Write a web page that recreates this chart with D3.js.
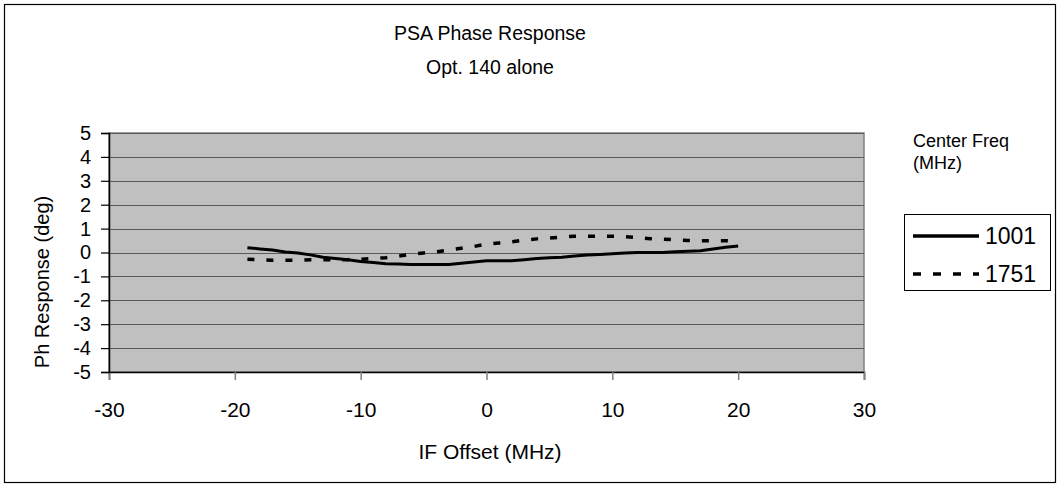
<!DOCTYPE html>
<html>
<head>
<meta charset="utf-8">
<script src="https://cdn.jsdelivr.net/npm/d3@7"></script>
<style>
  body { margin: 0; background: #fff; }
  svg text { font-family: "Liberation Sans", Arial, sans-serif; fill: #000; }
</style>
</head>
<body>
<svg id="chart" width="1061" height="491"></svg>
<script>
// ---- data ----
const title = ["PSA Phase Response", "Opt. 140 alone"];
const xTitle = "IF Offset (MHz)";
const yTitle = "Ph Response (deg)";
const legendTitle = ["Center Freq", "(MHz)"];
const seriesNames = ["1001", "1751"];
const xTicks = [-30, -20, -10, 0, 10, 20, 30];
const yTicks = [5, 4, 3, 2, 1, 0, -1, -2, -3, -4, -5];
const ifOffset = [-19, -18, -17, -16, -15, -14, -13, -12, -11, -10, -9, -8, -7, -6, -5, -4, -3, -2, -1, 0,
                  1, 2, 3, 4, 5, 6, 7, 8, 9, 10, 11, 12, 13, 14, 15, 16, 17, 18, 19, 20];
const ph1001 = [0.2, 0.15, 0.1, 0.02, -0.02, -0.1, -0.2, -0.25, -0.3, -0.38, -0.42, -0.47, -0.48, -0.5, -0.5, -0.5, -0.5, -0.45, -0.4, -0.35,
                -0.35, -0.35, -0.3, -0.25, -0.22, -0.2, -0.15, -0.1, -0.08, -0.05, -0.02, 0, 0, 0, 0.03, 0.05, 0.07, 0.15, 0.22, 0.27];
const ph1751 = [-0.28, -0.3, -0.32, -0.32, -0.32, -0.3, -0.3, -0.3, -0.3, -0.28, -0.25, -0.22, -0.15, -0.08, -0.02, 0.03, 0.1, 0.18, 0.25, 0.35,
                0.4, 0.45, 0.52, 0.57, 0.6, 0.65, 0.68, 0.68, 0.68, 0.68, 0.66, 0.62, 0.58, 0.56, 0.53, 0.5, 0.49, 0.49, 0.49, 0.48];

// ---- layout ----
const svg = d3.select("#chart");
const plot = { left: 109, right: 864, top: 133, bottom: 372 };
const x = d3.scaleLinear().domain([-30, 30]).range([plot.left, plot.right]);
const y = d3.scaleLinear().domain([-5, 5]).range([plot.bottom, plot.top]);
const fmt = d => String(d);

// outer frame
svg.append("rect").attr("x", 4.5).attr("y", 4.5).attr("width", 1051).attr("height", 478)
  .attr("fill", "#fff").attr("stroke", "#000").attr("stroke-width", 1.2);

// plot background
svg.append("rect").attr("x", plot.left).attr("y", plot.top)
  .attr("width", plot.right - plot.left).attr("height", plot.bottom - plot.top)
  .attr("fill", "#c0c0c0").attr("stroke", "#808080").attr("stroke-width", 1.5);

// gridlines
svg.append("g").selectAll("line").data(yTicks.filter(d => d !== -5)).join("line")
  .attr("x1", plot.left).attr("x2", plot.right)
  .attr("y1", d => Math.round(y(d)) + 0.5).attr("y2", d => Math.round(y(d)) + 0.5)
  .attr("stroke", "#5a5a5a").attr("stroke-width", 1.2);

// axes
const xAxis = d3.axisBottom(x).tickValues(xTicks).tickSize(8).tickPadding(22).tickFormat(fmt);
const gx = svg.append("g").attr("transform", `translate(0,${plot.bottom})`).call(xAxis);
gx.select(".domain").attr("stroke", "#000").attr("stroke-width", 1.5);
gx.selectAll(".tick line").attr("stroke", "#808080").attr("stroke-width", 1.5);
gx.selectAll(".tick text").attr("font-size", 21).style("font-family", "Liberation Sans, Arial, sans-serif");

const yAxis = d3.axisLeft(y).tickValues(yTicks).tickSize(8).tickPadding(10).tickFormat(fmt);
const gy = svg.append("g").attr("transform", `translate(${plot.left},0)`).call(yAxis);
gy.select(".domain").attr("stroke", "#000").attr("stroke-width", 1.5);
gy.selectAll(".tick line").attr("stroke", "#000").attr("stroke-width", 1.2);
gy.selectAll(".tick text").attr("font-size", 20).style("font-family", "Liberation Sans, Arial, sans-serif");

// series
const line = d3.line().x(d => x(d[0])).y(d => y(d[1]));
svg.append("path").datum(ifOffset.map((v, i) => [v, ph1001[i]]))
  .attr("d", line).attr("fill", "none").attr("stroke", "#000").attr("stroke-width", 3);
svg.append("path").datum(ifOffset.map((v, i) => [v, ph1751[i]]))
  .attr("d", line).attr("fill", "none").attr("stroke", "#000").attr("stroke-width", 3.5)
  .attr("stroke-dasharray", "7,12");

// titles
svg.append("text").attr("x", 490).attr("y", 40).attr("text-anchor", "middle").attr("font-size", 19.5).text(title[0]);
svg.append("text").attr("x", 490).attr("y", 74).attr("text-anchor", "middle").attr("font-size", 19.5).text(title[1]);
svg.append("text").attr("x", 490).attr("y", 459).attr("text-anchor", "middle").attr("font-size", 21).text(xTitle);
svg.append("text").attr("transform", "translate(49,282) rotate(-90)").attr("text-anchor", "middle")
  .attr("font-size", 20).text(yTitle);

// legend
svg.append("text").attr("x", 913).attr("y", 147).attr("font-size", 18).text(legendTitle[0]);
svg.append("text").attr("x", 913).attr("y", 169).attr("font-size", 18).text(legendTitle[1]);
svg.append("rect").attr("x", 904.5).attr("y", 214.5).attr("width", 146).attr("height", 76)
  .attr("fill", "#fff").attr("stroke", "#000").attr("stroke-width", 1);
const leg = svg.append("g");
seriesNames.forEach((name, i) => {
  const ly = 236 + i * 38;
  leg.append("line").attr("x1", 913).attr("x2", 979).attr("y1", ly).attr("y2", ly)
    .attr("stroke", "#000").attr("stroke-width", 3.5)
    .attr("stroke-dasharray", i === 1 ? "8,12" : null);
  leg.append("text").attr("x", 985).attr("y", ly + 8).attr("font-size", 23).text(name);
});
</script>
</body>
</html>
